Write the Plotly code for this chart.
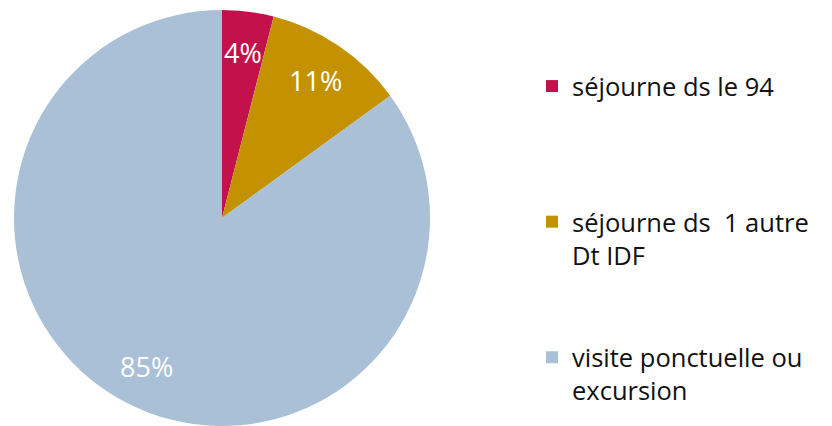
import math
import plotly.graph_objects as go

labels = ["séjourne ds le 94", "séjourne ds  1 autre<br>Dt IDF", "visite ponctuelle ou<br>excursion"]
values = [4, 11, 85]
colors = ["#C3124B", "#C49200", "#A9C0D6"]
pad_lines = [3, 2, 0]  # blank lines to space the legend entries

legend_labels = [lab + "<br> " * n for lab, n in zip(labels, pad_lines)]

W, H = 832, 426
dom_x = [6 / W, 422 / W]
dom_y = [8 / H, 424 / H]

fig = go.Figure(go.Pie(
    labels=legend_labels,
    values=values,
    marker=dict(colors=colors, line=dict(width=0)),
    sort=False,
    direction="clockwise",
    rotation=0,
    textinfo="none",
    hoverinfo="label+percent",
    domain=dict(x=dom_x, y=dom_y),
))

# percent labels placed from the data (mid-angle of each slice)
cx = (dom_x[0] + dom_x[1]) / 2 * W
cy_top = H - (dom_y[0] + dom_y[1]) / 2 * H
R = (dom_x[1] - dom_x[0]) * W / 2
total = sum(values)
cum = 0
annotations = []
for v in values:
    mid = (cum + v / 2) / total * 2 * math.pi
    cum += v
    rf = 0.8
    px = cx + rf * R * math.sin(mid)
    py = cy_top - rf * R * math.cos(mid)
    annotations.append(dict(
        x=px / W, y=1 - py / H, xref="paper", yref="paper",
        text=f"{round(v / total * 100)}%", showarrow=False,
        font=dict(family="Open Sans", size=27, color="white"),
        xanchor="center", yanchor="middle",
    ))

fig.update_layout(
    width=W, height=H,
    margin=dict(l=0, r=0, t=0, b=0),
    paper_bgcolor="white",
    plot_bgcolor="white",
    font=dict(family="Open Sans", color="#111111"),
    showlegend=True,
    legend=dict(
        x=524 / W, xanchor="left",
        y=1 - 55 / H, yanchor="top",
        font=dict(family="Open Sans", size=25.5, color="#111111"),
        valign="top",
        bgcolor="rgba(0,0,0,0)",
        traceorder="normal",
    ),
    annotations=annotations,
)

fig.write_html("out.html")
